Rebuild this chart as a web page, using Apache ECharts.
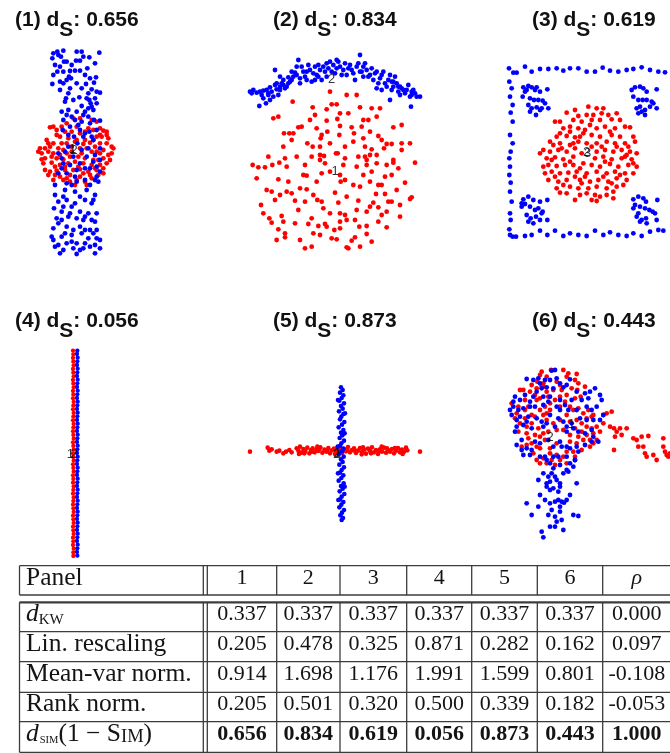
<!DOCTYPE html>
<html><head><meta charset="utf-8">
<script src="https://cdn.jsdelivr.net/npm/echarts@6/dist/echarts.min.js"></script>
<style>html,body{margin:0;padding:0;background:#fff}#c{width:670px;height:753px}</style>
</head><body><div id="c"></div>
<script>
// ---------- DATA (readings in panel-local units, y downward) ----------
const titleIds = ['(1)','(2)','(3)','(4)','(5)','(6)'];
const titleVals = ['0.656','0.834','0.619','0.056','0.873','0.443'];

const p1Blue = [[160,160],[172,155],[190,152],[230,155],[245,155],[298,158],[157,175],[183,170],[192,185],[165,195],[180,200],[200,185],[228,182],[240,182],[268,172],[262,205],[172,215],[190,215],[210,213],[225,212],[240,212],[160,225],[207,230],[200,240],[213,235],[180,245],[157,252],[190,250],[288,232],[258,252],[282,248],[210,265],[275,268],[290,275],[300,278],[205,280],[265,280],[198,295],[238,292],[285,295],[268,300],[195,305],[272,310],[275,320],[185,335],[205,330],[245,318],[265,325],[280,330],
[175,165],[250,170],[285,190],[215,195],[255,225],[270,235],[230,250],[245,265],[180,270],[260,295],[220,300],[290,310],[230,335],[255,335],
[200,345],[215,350],[250,345],[265,350],[190,360],[225,360],[245,365],[270,370],[282,360],[300,362],[188,390],[210,380],[240,390],[255,400],[268,395],[290,390],[222,410],[250,410],[280,420],[232,430],[205,440],[265,445],[300,445],[175,460],[195,455],[220,470],[260,470],[285,465],[300,480],[190,490],[210,495],[240,490],[270,505],[290,500],[300,515],[175,520],[200,520],[225,530],[255,540],[285,540],[200,550],[230,545],[165,555],[215,555],[270,555],[295,545],
[235,375],[205,405],[275,410],[245,450],[185,475],[280,485],[255,505],[230,510],[185,505],[290,530],
[260,570],[165,585],[190,590],[240,590],[285,585],[175,605],[200,600],[215,620],[255,600],[275,610],[162,625],[185,635],[240,635],[265,640],[290,640],[170,655],[205,650],[230,655],[275,660],[175,670],[250,660],[285,665],[160,685],[200,680],[240,680],[270,690],[290,690],[155,710],[185,710],[215,705],[245,700],[265,715],[290,715],[300,720],[160,720],[175,735],[200,730],[230,730],[255,730],[270,740],[300,745],[190,750],[220,745],[240,750],[285,760],[165,740],
[195,570],[225,575],[280,600],[190,620],[225,610],[210,640],[255,650],[185,660],[220,690],[255,690],[195,700],[280,700],[215,725],[285,735],[250,745],[180,760],[230,762]];
const p1Red = [[150,382],[160,380],[185,380],[200,370],[220,355],[240,355],[275,360],[290,365],[300,385],[310,392],[320,395],[195,395],[215,395],[240,400],[265,385],[280,390],[170,405],[180,410],[205,415],[230,420],[255,420],[290,410],[305,410],[325,415],[160,430],[185,430],[200,430],[250,432],[270,428],[300,430],[320,430],[335,440],[120,445],[135,445],[150,440],[175,445],[240,445],[260,445],[285,440],[310,450],[125,460],[145,455],[160,460],[180,465],[200,460],[245,460],[275,455],[300,460],[325,465],[335,460],[135,475],[170,475],[190,478],[235,470],[255,475],[280,480],[310,475],[320,490],[130,490],[155,488],[180,495],[205,490],[225,485],[250,490],[275,495],[300,495],[135,510],[150,515],[170,512],[195,510],[220,510],[240,508],[265,515],[290,510],[310,505],[145,525],[165,525],[210,525],[240,530],[270,525],[295,525],[190,540],[230,540],[255,545],[275,535],[210,545],[180,530],
[170,390],[230,380],[255,395],[300,405],[140,420],[215,440],[225,425],[280,420],[145,430],[190,450],[215,455],[290,455],[155,470],[210,470],[295,480],[330,480],[165,500],[195,500],[235,500],[285,505],[125,478],[160,540],[250,520],[200,535],[310,520],[260,555],[225,555],[340,445],[115,455],[320,405]];
const p1Marks = [[218,448,'1'],[222,450,'2']];

const p2Blue = [[60,275],[65,280],[80,278],[90,275],[100,272],[110,270],[88,318],[108,310],[120,262],[125,275],[130,290],[135,255],[140,268],[150,260],[145,285],[155,250],[160,240],[165,265],[170,260],[135,210],[150,230],[175,232],[180,245],[190,230],[195,218],[205,180],[210,235],[220,215],[225,230],[235,195],[240,210],[245,245],[255,200],[260,225],[265,195],[270,210],[275,240],[280,200],[290,190],[295,205],[300,185],[305,215],[310,195],[320,205],[325,185],[330,200],[340,210],[345,190],[350,225],[360,195],[365,210],[375,240],[380,200],[385,190],[390,165],[395,215],[400,230],[405,190],[410,210],[420,225],[425,205],[430,240],[435,220],[440,265],[450,235],[460,215],[465,250],[470,260],[480,225],[485,245],[490,260],[495,230],[500,250],[505,275],[510,285],[515,265],[520,270],[525,280],[535,255],[540,290],[545,275],[550,270],[560,290],[570,290],[543,320],[480,300],[485,270],[455,270],[250,220],[185,215],[215,200],[120,300],[100,295],
[70,270],[95,285],[115,280],[140,250],[160,255],[175,250],[185,240],[200,225],[210,250],[230,215],[255,240],[265,230],[285,215],[290,230],[315,220],[335,225],[355,205],[370,220],[390,215],[400,200],[415,230],[445,250],[455,225],[475,240],[490,245],[510,260],[530,270],[545,285],[555,280],[200,200],[230,240],[320,180],[440,215],[505,260],[150,270],[115,285]];
const p2Red = [[300,275],[188,305],[305,313],[320,313],[350,285],[380,285],[290,328],[248,322],[355,340],[390,322],[425,325],[450,325],[130,355],[145,350],[255,345],[290,362],[322,357],[400,360],[415,360],[440,350],[205,382],[215,380],[260,385],[292,395],[330,378],[365,382],[395,380],[420,395],[445,408],[490,382],[515,375],[162,400],[178,400],[190,400],[275,405],[272,415],[328,405],[372,400],[160,440],[232,430],[248,440],[270,440],[370,425],[405,440],[425,448],[462,445],[470,432],[485,432],[515,430],[540,430],[515,450],[420,465],[440,465],[200,470],[245,470],[270,465],[282,468],[318,460],[323,460],[345,475],[385,470],[405,470],[410,480],[165,475],[270,480],[68,495],[85,502],[105,502],[127,495],[148,488],[170,500],[340,495],[380,500],[440,490],[470,495],[490,488],[490,480],[555,488],[220,525],[230,527],[275,520],[300,515],[330,525],[332,545],[345,540],[400,525],[425,515],[465,530],[485,525],[80,535],[145,538],[175,545],[110,570],[125,575],[150,585],[170,575],[185,580],[210,565],[230,568],[315,578],[390,560],[420,545],[445,555],[455,555],[525,548],[438,582],[465,582],[545,592],[540,597],[195,602],[225,605],[262,600],[275,605],[325,608],[385,602],[430,608],[475,605],[485,605],[93,615],[420,620],[445,622],[470,635],[100,640],[118,655],[155,648],[245,655],[300,640],[330,640],[345,645],[410,635],[455,645],[125,668],[160,665],[235,672],[265,678],[285,672],[290,680],[330,665],[350,660],[375,660],[388,680],[410,678],[470,682],[145,688],[165,700],[165,712],[313,690],[330,685],[210,720],[305,715],[320,718],[365,722],[375,712],[425,725],[410,702],[225,745],[245,740],[350,742],[355,745],
[240,360],[330,340],[185,420],[300,430],[345,440],[400,415],[455,420],[115,470],[225,495],[285,490],[410,495],[505,505],[260,545],[370,555],[500,570],[135,600],[250,585],[350,590],[205,630],[280,625],[380,630],[510,615],[195,670],[445,665],[510,650],[270,705],[390,740],[250,700],[140,720]];
const p2Marks = [[305,237,'2'],[315,515,'1']];

const p3Blue = [[147,205],[160,218],[170,218],[195,200],[215,215],[240,207],[265,207],[290,205],[310,212],[330,205],[355,205],[380,215],[405,215],[428,203],[450,212],[475,215],[500,210],[520,207],[545,202],[570,210],[595,215],[615,217],
[148,245],[155,265],[150,290],[158,315],[152,338],[158,365],[150,405],[158,430],[152,455],[148,475],[150,500],[148,525],[152,548],[150,575],[155,605],[150,640],[152,660],[148,688],[150,705],[158,710],[168,710],
[195,708],[215,705],[240,692],[262,705],[285,692],[310,708],[330,700],[355,705],[380,708],[405,692],[430,705],[450,697],[475,705],[500,708],[520,700],[545,708],[570,695],[595,690],[610,692],
[190,262],[195,275],[205,258],[215,262],[225,270],[240,275],[262,268],[188,290],[210,295],[222,300],[235,300],[248,302],[255,310],[205,315],[215,325],[230,322],[245,325],[265,325],[210,335],[228,345],[240,330],[200,270],[230,262],
[515,270],[525,262],[540,260],[550,265],[560,275],[590,268],[520,290],[535,300],[548,300],[560,300],[575,305],[580,310],[540,320],[530,325],[545,335],[555,330],[590,325],[535,340],[555,345],[570,320],
[190,598],[205,590],[220,600],[240,605],[262,600],[185,620],[195,612],[210,620],[225,630],[235,625],[248,635],[200,645],[212,655],[228,650],[240,660],[262,660],[205,665],[220,670],[245,640],[185,610],
[520,598],[535,590],[550,595],[558,605],[592,600],[525,615],[540,620],[555,625],[568,630],[578,635],[535,640],[530,650],[545,660],[558,655],[590,660],[540,665],[560,670],[585,640],[520,625]];
const p3Red = [[385,320],[410,325],[430,325],[320,338],[355,348],[380,345],[400,345],[445,345],[470,340],[285,365],[300,365],[340,360],[365,365],[395,360],[420,360],[455,358],[480,360],[310,385],[330,380],[355,385],[375,390],[410,385],[435,380],[465,385],[495,380],[510,382],[290,410],[320,408],[345,412],[370,400],[395,405],[420,410],[455,405],[480,410],[520,410],[300,430],[330,435],[355,425],[380,430],[410,430],[440,425],[465,430],[495,430],[525,425],[250,450],[270,455],[295,450],[320,455],[345,445],[410,455],[435,450],[460,455],[485,450],[510,455],[530,460],[260,475],[285,472],[310,478],[340,470],[405,475],[430,470],[455,478],[485,475],[515,478],[265,495],[290,498],[315,495],[340,495],[370,490],[395,495],[420,500],[450,492],[475,500],[505,495],[530,500],[275,515],[300,520],[325,518],[350,515],[380,520],[410,515],[440,520],[465,515],[495,520],[520,520],[265,540],[295,545],[320,540],[360,540],[390,545],[415,540],[445,545],[470,535],[500,540],[290,565],[330,560],[355,565],[385,565],[410,560],[440,565],[470,560],[300,578],[380,580],[405,585],[420,590],[440,585],[345,600],[410,603],[460,595],[240,460],[255,520],[365,460],[280,435],[500,465],
[345,330],[425,340],[330,395],[390,375],[450,395],[305,445],[340,430],[395,440],[425,440],[470,440],[505,440],[275,480],[330,485],[360,505],[435,485],[495,470],[520,490],[285,530],[345,530],[375,530],[430,530],[480,525],[310,555],[365,550],[455,550],[490,555],[320,580],[360,585],[460,575],[395,600],[270,425],[360,410],[250,500],[300,400]];
const p3Marks = [[380,458,'2'],[383,461,'3']];

const p4Red = [[219,152],[220,163],[219,174],[220,185],[221,196],[219,207],[220,218],[221,229],[219,240],[220,251],[221,262],[219,273],[220,284],[219,295],[221,306],[220,317],[219,328],[221,339],[220,350],[219,361],[221,372],[220,383],[219,394],[220,405],[221,416],[219,427],[220,438],[221,449],[219,460],[220,471],[221,482],[219,493],[220,504],[221,515],[219,526],[220,537],[219,548],[221,559],[220,570],[219,581],[221,592],[220,603],[219,614],[220,625],[221,636],[219,647],[220,658],[221,669],[219,680],[220,691],[221,702],[219,713],[220,724],[219,735],[221,746],[220,757],[220,768]];
const p4Blue = [[232,152],[231,162],[233,173],[232,184],[231,195],[233,206],[232,217],[231,228],[233,239],[232,250],[231,261],[233,272],[232,283],[231,294],[233,305],[232,316],[231,327],[233,338],[232,349],[231,360],[233,371],[232,382],[231,393],[233,404],[232,415],[231,426],[233,437],[232,448],[231,459],[233,470],[232,481],[231,492],[233,503],[232,514],[231,525],[233,536],[232,547],[231,558],[233,569],[232,580],[231,591],[233,602],[232,613],[231,624],[233,635],[232,646],[231,657],[233,668],[232,679],[231,690],[233,701],[232,712],[231,723],[233,734],[232,745],[231,756],[232,767]];
const p4Marks = [[211,462,'1'],[222,462,'2']];

const p5Red = [[60,455],[113,443],[118,452],[125,448],[140,455],[148,452],[160,460],[168,455],[178,450],[185,457],[200,445],[205,452],[210,440],[215,458],[220,447],[226,453],[232,443],[238,460],[243,450],[248,445],[254,457],[260,448],[265,453],[271,442],[277,458],[283,449],[289,455],[295,444],[300,460],[306,451],[312,446],[318,456],[324,443],[330,452],[336,459],[342,447],[348,454],[354,441],[360,457],[366,450],[372,445],[378,459],[384,452],[390,444],[396,456],[402,449],[408,461],[414,446],[420,453],[426,442],[432,457],[438,450],[444,462],[450,448],[456,455],[462,443],[468,458],[474,450],[480,455],[486,447],[492,460],[498,452],[504,444],[510,457],[516,449],[522,455],[528,443],[532,451],[570,455],[207,462],[262,440],[330,440],[395,463],[455,440],[518,462],
[223,460],[246,455],[268,447],[292,451],[315,462],[352,449],[375,453],[399,442],[423,460],[447,453],[471,445],[495,444],[513,451]];
const p5Blue = [[333,262],[338,270],[330,278],[340,286],[335,294],[328,302],[342,310],[333,318],[338,326],[327,334],[340,342],[334,350],[330,358],[343,366],[336,374],[326,382],[340,390],[333,398],[337,406],[329,414],[342,422],[334,430],[330,438],[340,446],[336,454],[327,462],[341,470],[333,478],[338,486],[328,494],[342,502],[335,510],[330,518],[340,526],[334,534],[326,542],[341,550],[333,558],[338,566],[329,574],[343,582],[335,590],[330,598],[340,606],[334,614],[328,622],[342,630],[336,638],[331,646],[339,654],[335,660],[324,300],[344,400],[324,520],[344,560],[325,600],[345,340],[323,440]];
const p5Marks = [[320,462,'2'],[322,460,'1']];

const p6Red = [[245,215],[240,225],[273,210],[310,210],[325,220],[350,222],[232,245],[250,250],[290,245],[320,230],[345,240],[355,250],[180,270],[210,275],[230,265],[245,258],[260,275],[280,270],[305,270],[335,265],[352,270],[375,260],[195,300],[230,300],[240,295],[255,320],[270,310],[285,300],[300,290],[315,305],[345,295],[362,290],[155,310],[175,320],[195,330],[215,345],[240,330],[270,330],[300,320],[330,320],[340,330],[355,325],[370,340],[385,330],[395,350],[400,345],[165,355],[180,370],[200,380],[215,370],[235,385],[260,360],[280,370],[300,360],[330,365],[350,360],[365,370],[380,380],[395,385],[410,380],[420,395],[200,400],[225,405],[240,410],[265,395],[290,390],[310,390],[345,385],[365,395],[380,405],[400,400],[410,420],[185,440],[200,435],[215,430],[230,440],[255,420],[290,430],[330,425],[350,430],[370,420],[390,440],[220,460],[250,475],[270,460],[290,465],[310,470],[340,455],[365,450],[240,490],[260,490],[275,480],[300,480],[320,490],[195,355],[225,350],[250,345],[430,345],[190,270],
[260,230],[300,255],[225,285],[265,290],[320,285],[170,340],[205,320],[260,340],[320,345],[380,355],[205,415],[250,400],[330,405],[355,410],[390,420],[175,395],[240,445],[270,445],[320,455],[345,470],[230,480],[285,495],[400,430],[430,370],[250,260],[215,255],
[440,340],[455,335],[450,380],[462,385],[470,395],[480,385],[500,385],[465,410],[485,405],[462,450],[520,415],[530,420],[545,410],[565,408],[535,440],[550,440],[555,460],[560,470],[580,465],[590,480],[610,415],[610,440],[615,455],[620,465],[625,470],[630,460]];
const p6Blue = [[200,237],[275,212],[285,210],[240,250],[255,240],[270,240],[300,250],[310,262],[330,238],[245,265],[260,262],[280,265],[375,280],[405,265],[420,285],[425,300],[385,295],[365,300],[335,300],[300,300],[270,290],[250,290],[220,290],[195,285],[160,305],[180,300],[210,305],[175,330],[150,330],[155,345],[160,320],[190,325],[210,320],[225,320],[250,315],[290,320],[300,330],[325,330],[350,330],[170,360],[180,350],[205,350],[230,355],[245,365],[270,345],[295,355],[310,365],[335,370],[360,355],[380,360],[400,360],[420,360],[430,345],[410,320],[190,375],[170,380],[165,395],[215,385],[250,380],[285,380],[320,380],[340,385],[355,395],[375,400],[400,410],[415,425],[170,435],[185,450],[200,445],[215,450],[240,430],[265,420],[300,425],[305,440],[320,440],[330,445],[355,455],[375,435],[395,425],[210,465],[240,470],[255,470],[280,470],[295,470],[320,470],[345,480],[260,480],[320,510],[280,505],
[220,240],[235,235],[290,235],[320,255],[350,275],[390,275],[230,275],[165,290],[265,305],[315,315],[380,320],[395,330],[200,365],[260,370],[320,395],[395,390],[185,420],[225,425],[280,440],[350,440],[190,465],[270,490],[300,495],[340,500],[250,520],[275,520],
[235,540],[265,530],[270,545],[285,530],[290,540],[300,550],[260,560],[270,570],[280,565],[295,575],[300,560],[350,550],[240,585],[330,585],[200,610],[270,610],[285,605],[295,600],[305,605],[312,608],[215,645],[265,645],[275,630],[285,650],[300,635],[305,660],[340,645],[355,648],[290,665],[285,680],[245,695],[250,712],[260,550],[310,520],[325,515],[330,490],[345,480],
[255,600],[320,600],[235,620],[300,620],[270,680],[310,690]];
const p6Marks = [[270,412,'2'],[335,372,'1']];

// table content
const tableHeader = ['1','2','3','4','5','6'];
const rowLabels = ['dKW','Lin. rescaling','Mean-var norm.','Rank norm.','dSIM'];
const rowKW   = ['0.337','0.337','0.337','0.337','0.337','0.337','0.000'];
const rowLin  = ['0.205','0.478','0.325','0.871','0.282','0.162','0.097'];
const rowMV   = ['0.914','1.698','1.176','1.991','1.599','0.801','-0.108'];
const rowRank = ['0.205','0.501','0.320','0.500','0.339','0.182','-0.053'];
const rowSim  = ['0.656','0.834','0.619','0.056','0.873','0.443','1.000'];

// ---------- LAYOUT ----------
const panels = [
  {l:0,t:0,w:230,h:270},{l:230,t:0,w:230,h:270},{l:460,t:0,w:210,h:270},
  {l:0,t:300,w:230,h:260},{l:230,t:300,w:230,h:260},{l:460,t:300,w:210,h:260}
];
const titlePos = [[15,20.5],[273,20.5],[532,20.5],[15,321.5],[273,321.5],[532,321.5]];
const RED='#ff0000', BLUE='#0000ff';
const dotSize = [4.8,4.8,4.8,4.3,4.6,4.8];
const pData = [[p1Red,p1Blue,p1Marks],[p2Red,p2Blue,p2Marks],[p3Red,p3Blue,p3Marks],[p4Red,p4Blue,p4Marks],[p5Red,p5Blue,p5Marks],[p6Red,p6Blue,p6Marks]];

const series = [];
pData.forEach((d,i)=>{
  series.push({type:'scatter',xAxisIndex:i,yAxisIndex:i,data:d[0],symbolSize:dotSize[i],itemStyle:{color:RED,opacity:1},silent:true,z:2});
  series.push({type:'scatter',xAxisIndex:i,yAxisIndex:i,data:d[1],symbolSize:dotSize[i],itemStyle:{color:BLUE,opacity:1},silent:true,z:3});
  series.push({type:'scatter',xAxisIndex:i,yAxisIndex:i,data:d[2],symbolSize:0,silent:true,z:5,
    label:{show:true,position:'inside',formatter:p=>p.value[2],fontFamily:'Liberation Sans',fontSize:13,color:'#000'}});
});

const graphic = [];
titleIds.forEach((id,i)=>{
  const f = {fontFamily:'Liberation Sans',fontWeight:'bold',fontSize:21,lineHeight:21,fill:'#111'};
  graphic.push({type:'text',silent:true,style:{x:titlePos[i][0],y:titlePos[i][1],verticalAlign:'middle',align:'left',
    text:'{m|'+id+' d}{s|S}{m|: '+titleVals[i]+'}',
    rich:{m:f,s:Object.assign({},f,{padding:[19,0,0,0]})}}});
});

// table
const colX = [19.5,203.3,207.3,276.7,340,406.7,471.7,537.3,602.7,671];
const headY = [565.7,595];
const bodyY = [602.3,631.7,661.7,692.3,721.7,752.3];
const LC = '#3c3c3c';
function hline(x1,x2,y,w){graphic.push({type:'line',silent:true,shape:{x1,y1:y,x2,y2:y},style:{stroke:LC,lineWidth:w||1.3}});}
function vline(x,y1,y2,w){graphic.push({type:'line',silent:true,shape:{x1:x,y1,x2:x,y2},style:{stroke:LC,lineWidth:w||1.3}});}
hline(colX[0],colX[colX.length-1],headY[0]); hline(colX[0],colX[colX.length-1],headY[1]);
bodyY.forEach((y,k)=>hline(colX[0],colX[colX.length-1],y,k===0?2.2:1.3));
colX.forEach(x=>{vline(x,headY[0],headY[1]); vline(x,bodyY[0],bodyY[bodyY.length-1]);});

const serif='Liberation Serif', TC='#141414';
const NUM=22, LAB=25.5;
function cellText(text,cx,cy,opt){graphic.push({type:'text',silent:true,style:Object.assign({x:cx,y:cy,text,align:'center',verticalAlign:'middle',fontFamily:serif,fontSize:NUM,fill:TC},opt||{})});}
const valCols = []; for(let k=2;k<colX.length-1;k++) valCols.push((colX[k]+colX[k+1])/2);
const headCy = (headY[0]+headY[1])/2 - 2;
cellText('Panel',26,headCy,{align:'left',fontSize:LAB});
tableHeader.forEach((t,k)=>cellText(t,valCols[k],headCy));
cellText('ρ',valCols[6],headCy,{fontStyle:'italic'});

const rows=[rowKW,rowLin,rowMV,rowRank,rowSim];
rows.forEach((r,ri)=>{
  const cy=(bodyY[ri]+bodyY[ri+1])/2-2.5;
  r.forEach((v,k)=>cellText(v,valCols[k],cy,ri===4?{fontWeight:'bold'}:{}));
  const base={fontFamily:serif,fontSize:LAB,lineHeight:LAB,fill:TC};
  let st;
  if(ri===0){
    st={text:'{i|d}{sub|KW}',rich:{i:Object.assign({},base,{fontStyle:'italic'}),sub:Object.assign({},base,{fontSize:15,lineHeight:15,padding:[11,0,0,0]})}};
  } else if(ri===4){
    st={text:'{i|d}{sub|SIM}{r|(1 − S}{sc|IM}{r|)}',rich:{i:Object.assign({},base,{fontStyle:'italic'}),sub:Object.assign({},base,{fontSize:10.5,lineHeight:10.5,padding:[12,0,0,1]}),r:base,sc:Object.assign({},base,{fontSize:18.5,lineHeight:18.5,padding:[6,0,0,0]})}};
  } else {
    st={text:rowLabels[ri],fontSize:LAB};
  }
  cellText(null,26,cy,Object.assign({align:'left',fontSize:LAB},st));
});

const chart = echarts.init(document.getElementById('c'),null,{renderer:'canvas'});
chart.setOption({
  animation:false, backgroundColor:'#fff',
  grid: panels.map(p=>({left:p.l,top:p.t,width:p.w,height:p.h})),
  xAxis: panels.map((p,i)=>({gridIndex:i,type:'value',min:0,max:p.w*3,show:false})),
  yAxis: panels.map((p,i)=>({gridIndex:i,type:'value',min:0,max:p.h*3,inverse:true,show:false})),
  series, graphic
});
</script></body></html>
